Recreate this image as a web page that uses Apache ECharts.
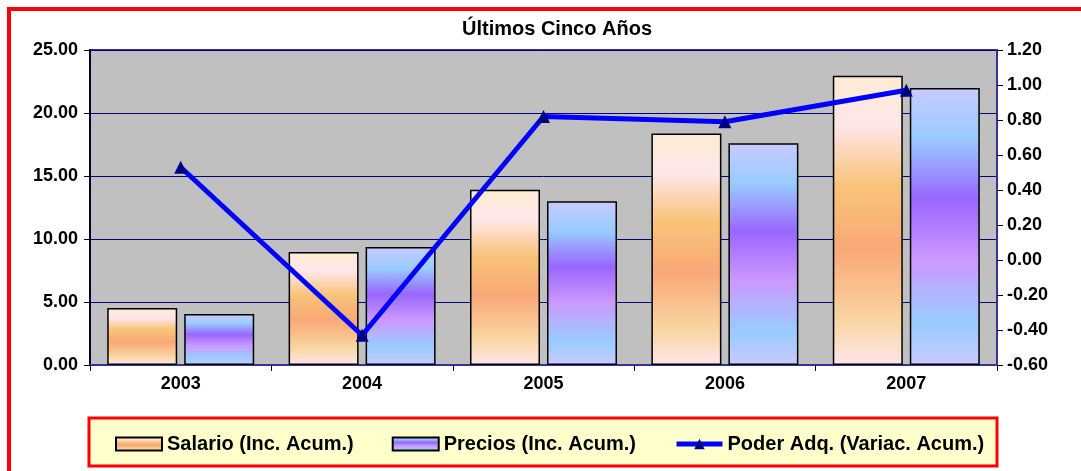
<!DOCTYPE html>
<html>
<head>
<meta charset="utf-8">
<script src="https://cdn.jsdelivr.net/npm/echarts@6/dist/echarts.min.js"></script>
<style>
  html, body { margin: 0; padding: 0; background: #fff; overflow: hidden; }
  #frame { position: absolute; left: 7px; top: 7px; width: 1100px; height: 500px; border: 4px solid #ff0000; box-sizing: border-box; }
  #chart { position: absolute; left: 0; top: 0; width: 1081px; height: 471px; }
</style>
</head>
<body>
<div id="frame"></div>
<div id="chart"></div>
<script>
  // datos
  var years = ['2003', '2004', '2005', '2006', '2007']
  var salario = [4.52, 8.97, 13.9, 18.38, 22.96]
  var precios = [4.05, 9.37, 13.0, 17.6, 21.98]
  var poder = [0.53, -0.43, 0.82, 0.79, 0.97]

  var font = 'Liberation Sans, Arial, sans-serif'

  var salarioGrad = new echarts.graphic.LinearGradient(0, 0, 0, 1, [
    {offset: 0, color: '#fcecd2'},
    {offset: 0.17, color: '#ffe6ea'},
    {offset: 0.38, color: '#f8c478'},
    {offset: 0.6, color: '#f9a878'},
    {offset: 0.85, color: '#f9d6a2'},
    {offset: 1, color: '#ffe6ea'}
  ])
  var preciosGrad = new echarts.graphic.LinearGradient(0, 0, 0, 1, [
    {offset: 0, color: '#c8caff'},
    {offset: 0.18, color: '#99ccff'},
    {offset: 0.4, color: '#9966ff'},
    {offset: 0.62, color: '#cc99ff'},
    {offset: 0.85, color: '#99ccff'},
    {offset: 1, color: '#c8caff'}
  ])

  var chart = echarts.init(document.getElementById('chart'))
  chart.setOption({
    animation: false,
    title: {
      text: 'Últimos Cinco Años',
      left: 457,
      top: 14,
      textStyle: {fontFamily: font, fontSize: 20, fontWeight: 'bold', color: '#000'}
    },
    graphic: [{
      type: 'rect',
      shape: {x: 89, y: 418, width: 908, height: 48},
      style: {fill: '#ffffcc', stroke: '#ff0000', lineWidth: 3},
      z: 0
    }],
    legend: {
      top: 429,
      left: 110,
      itemWidth: 46,
      itemHeight: 13,
      itemGap: 38,
      textStyle: {fontFamily: font, fontSize: 20, fontWeight: 'bold', color: '#000'},
      data: [
        {name: 'Salario (Inc. Acum.)', icon: 'rect'},
        {name: 'Precios (Inc. Acum.)', icon: 'rect'},
        {name: 'Poder Adq. (Variac. Acum.)', lineStyle: {width: 5}}
      ]
    },
    grid: {
      left: 90,
      right: 84,
      top: 50,
      bottom: 106,
      show: true,
      backgroundColor: '#c0c0c0',
      borderColor: '#333399',
      borderWidth: 2
    },
    xAxis: {
      type: 'category',
      data: years,
      axisLine: {lineStyle: {color: '#333399', width: 2}},
      axisTick: {show: true, length: 6, lineStyle: {color: '#000'}},
      axisLabel: {fontFamily: font, fontSize: 18, fontWeight: 'bold', color: '#000', margin: 10}
    },
    yAxis: [{
      type: 'value',
      min: 0,
      max: 25,
      interval: 5,
      axisLine: {show: true, lineStyle: {color: '#000033', width: 2}},
      axisTick: {show: true, length: 6, lineStyle: {color: '#000'}},
      splitLine: {show: true, lineStyle: {color: '#000080', width: 1}},
      axisLabel: {
        fontFamily: font, fontSize: 18, fontWeight: 'bold', color: '#000', margin: 12,
        formatter: function (v) { return v.toFixed(2) }
      }
    }, {
      type: 'value',
      min: -0.6,
      max: 1.2,
      interval: 0.2,
      position: 'right',
      axisLine: {show: true, lineStyle: {color: '#333399', width: 2}},
      axisTick: {show: true, length: 6, lineStyle: {color: '#000'}},
      splitLine: {show: false},
      axisLabel: {
        fontFamily: font, fontSize: 18, fontWeight: 'bold', color: '#000', margin: 10,
        formatter: function (v) { return v.toFixed(2) }
      }
    }],
    series: [{
      name: 'Salario (Inc. Acum.)',
      type: 'bar',
      data: salario,
      barWidth: 70,
      barGap: '10%',
      itemStyle: {color: salarioGrad, borderColor: '#000', borderWidth: 1.5}
    }, {
      name: 'Precios (Inc. Acum.)',
      type: 'bar',
      data: precios,
      barWidth: 70,
      itemStyle: {color: preciosGrad, borderColor: '#000', borderWidth: 1.5}
    }, {
      name: 'Poder Adq. (Variac. Acum.)',
      type: 'line',
      yAxisIndex: 1,
      data: poder,
      symbol: 'triangle',
      symbolSize: 13,
      lineStyle: {color: '#0000ff', width: 5},
      itemStyle: {color: '#000080'},
      z: 5
    }]
  })
</script>
</body>
</html>
